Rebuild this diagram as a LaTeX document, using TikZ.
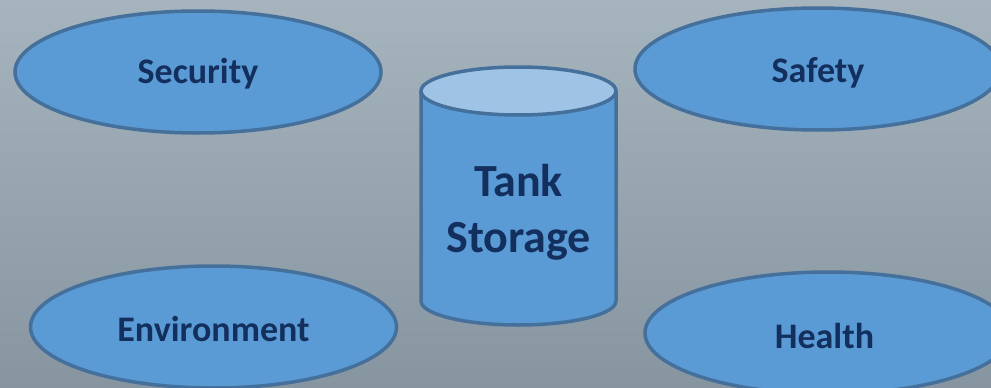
\documentclass[tikz,border=0pt]{standalone}
\usepackage{fontspec}
\setmainfont{Carlito}
\usetikzlibrary{shapes.geometric}

\definecolor{bgtop}{HTML}{A6B4BE}
\definecolor{bgbottom}{HTML}{8795A0}
\definecolor{blobfill}{HTML}{5B9BD5}
\definecolor{blobline}{HTML}{44709B}
\definecolor{lidfill}{HTML}{9FC3E5}
\definecolor{inktext}{HTML}{132F5E}

\tikzset{
  topic/.style={ellipse, draw=blobline, fill=blobfill, line width=3.5pt,
    inner sep=0pt, minimum width=366pt, minimum height=122pt},
  topiclabel/.style={anchor=base, text=inktext, font=\bfseries\fontsize{36}{40}\selectfont},
  tankbody/.style={draw=blobline, fill=blobfill, line width=3.5pt, line join=round},
  tanklid/.style={draw=blobline, fill=lidfill, line width=3.5pt},
  tanklabel/.style={text=inktext, align=center,
    font=\bfseries\fontsize{46}{56}\selectfont}
}

\begin{document}
\begin{tikzpicture}[x=1pt, y=-1pt]
  % canvas with a soft vertical gradient
  \shade[top color=bgtop, bottom color=bgbottom] (0,0) rectangle (991,388);
  \useasboundingbox (0,0) rectangle (991,388);

  % the four concern areas
  \node[topic] (security)    at (198,72)    {};
  \node[topic] (safety)      at (818,69)    {};
  \node[topic] (environment) at (213.5,327) {};
  \node[topic] (health)      at (828,333)   {};

  \node[topiclabel] (securitytext)    at (198,83)    {Security};
  \node[topiclabel] (safetytext)      at (818,82)    {Safety};
  \node[topiclabel] (environmenttext) at (213.5,341) {Environment};
  \node[topiclabel] (healthtext)      at (824.5,348) {Health};

  % storage tank in the middle
  \coordinate (tanktopleft)  at (421,91);
  \coordinate (tankbotleft)  at (421,301);
  \coordinate (tanktopright) at (616,91);
  \coordinate (tanklidc)     at (518.5,91);
  \draw[tankbody] (tanktopleft) -- (tankbotleft)
    arc[start angle=180, end angle=0, x radius=97.5, y radius=24]
    -- (tanktopright) -- cycle;
  \draw[tanklid] (tanklidc) ellipse[x radius=97.5, y radius=24];

  \node[tanklabel] (tanktext) at (518.5,212) {Tank\\Storage};
\end{tikzpicture}
\end{document}
